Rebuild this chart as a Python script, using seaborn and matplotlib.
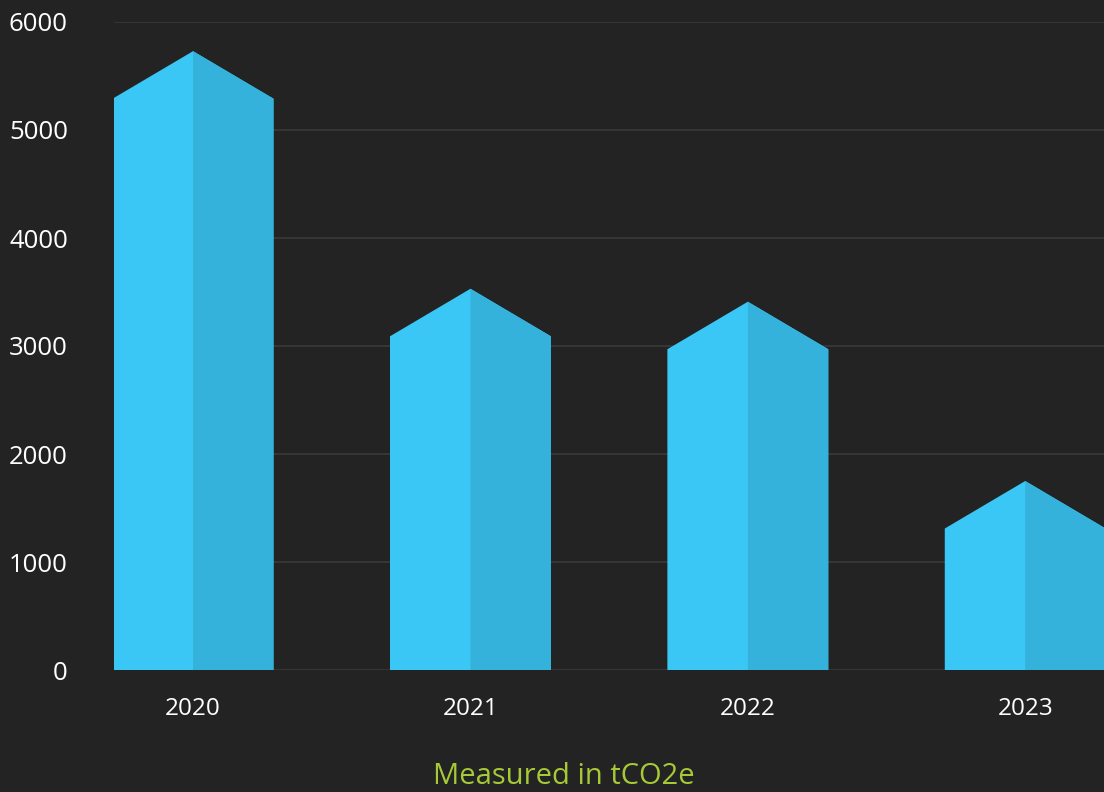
import matplotlib
matplotlib.use("Agg")
import matplotlib.pyplot as plt
import seaborn as sns
import pandas as pd

# Data (peak heights of each column, in tCO2e)
years = ["2020", "2021", "2022", "2023"]
values = [5730, 3530, 3410, 1750]
roof = 440  # height of the pointed cap in data units
y_ticks = [0, 1000, 2000, 3000, 4000, 5000, 6000]

BG = "#232323"
LIGHT = "#3ac7f5"
DARK = "#34b2db"
GRID = "#363636"

sns.set_theme(style="dark")
plt.rcParams["font.family"] = ["Open Sans", "DejaVu Sans"]

fig = plt.figure(figsize=(11.04, 7.92), dpi=100, facecolor=BG)
ax = fig.add_axes([114/1104, (792-670)/792, 1 - 114/1104, (670-22)/792])
ax.set_facecolor(BG)

df = pd.DataFrame({"year": years, "body": [v - roof for v in values]})
sns.barplot(data=df, x="year", y="body", color=LIGHT, saturation=1, width=0.58,
            ax=ax, zorder=3, linewidth=0)

for patch, v in zip(ax.patches, values):
    x0 = patch.get_x()
    w = patch.get_width()
    x1 = x0 + w
    xm = x0 + w / 2
    h = patch.get_height()
    patch.set_visible(False)
    # full house shape in light colour
    ax.fill([x0, x1, x1, xm, x0], [0, 0, h, v, h], color=LIGHT, zorder=4, lw=0)
    # darker right half on top
    ax.fill([xm, x1, x1, xm], [0, 0, h, v], color=DARK, zorder=5, lw=0)

ax.set_ylim(0, 6000)
ax.set_xlim(-0.285, 3.284)
ax.set_yticks(y_ticks)
ax.set_yticklabels([str(t) for t in y_ticks])
ax.yaxis.grid(True, color=GRID, linewidth=1.4, zorder=0)
ax.xaxis.grid(False)
for s in ax.spines.values():
    s.set_visible(False)
ax.tick_params(axis="y", length=0, pad=46*72/100, labelsize=18.5, labelcolor="white")
ax.tick_params(axis="x", length=0, pad=27*72/100, labelsize=17.5, labelcolor="white")
ax.set_xlabel("")
ax.set_ylabel("")

fig.text(564/1104, 1 - 777/792, "Measured in tCO2e", color="#a6c936",
         fontsize=21, ha="center", va="center")

fig.savefig("out.png", dpi=100, facecolor=BG)
